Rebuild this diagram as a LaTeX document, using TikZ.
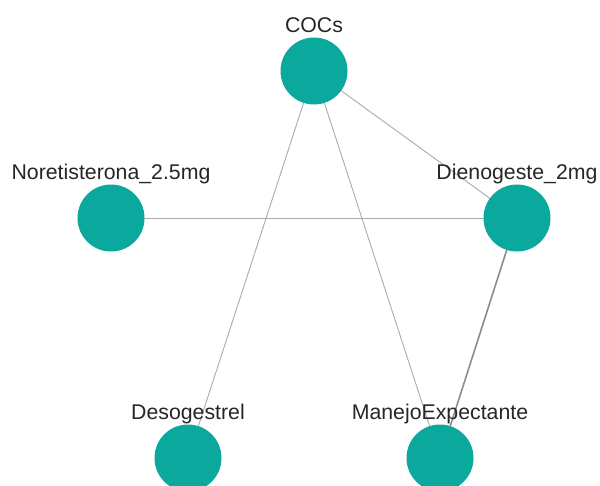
\documentclass[tikz,border=0pt]{standalone}
\usepackage{fontspec}
\setmainfont{Liberation Sans}
\usetikzlibrary{backgrounds}
\definecolor{nodeteal}{RGB}{11,168,158}
\definecolor{edgegray}{RGB}{170,170,170}
\definecolor{edgedark}{RGB}{140,140,140}
\begin{document}
\begin{tikzpicture}[x=1pt,y=-1pt,
  drug/.style={circle,fill=nodeteal,draw=none,minimum size=67pt,inner sep=0pt},
  tag/.style={anchor=base,inner sep=0pt,text=black!85,font=\fontsize{21.3}{25}\selectfont},
  link/.style={draw=edgegray,line width=0.9pt},
  heavylink/.style={draw=edgedark,line width=1.6pt}]
\useasboundingbox (0,0) rectangle (600,485);
\clip (0,0) rectangle (600,485);
% treatment nodes
\node[drug] (coc) at (314,71) {};
\node[drug] (nor) at (111,218) {};
\node[drug] (die) at (517,218) {};
\node[drug] (des) at (188,458) {};
\node[drug] (man) at (440,458) {};
% comparisons, drawn behind the nodes
\begin{scope}[on background layer]
\draw[link] (coc.center) -- (die.center);
\draw[link] (coc.center) -- (des.center);
\draw[link] (coc.center) -- (man.center);
\draw[link] (nor.center) -- (die.center);
\draw[heavylink] (die.center) -- (man.center);
\end{scope}
% labels
\node[tag] (lcoc) at (314,32.5) {COCs};
\node[tag] (lnor) at (111,179.5) {Noretisterona\_2.5mg};
\node[tag] (ldie) at (517,179.5) {Dienogeste\_2mg};
\node[tag] (ldes) at (188,419.5) {Desogestrel};
\node[tag] (lman) at (440,419.5) {ManejoExpectante};
\end{tikzpicture}
\end{document}
